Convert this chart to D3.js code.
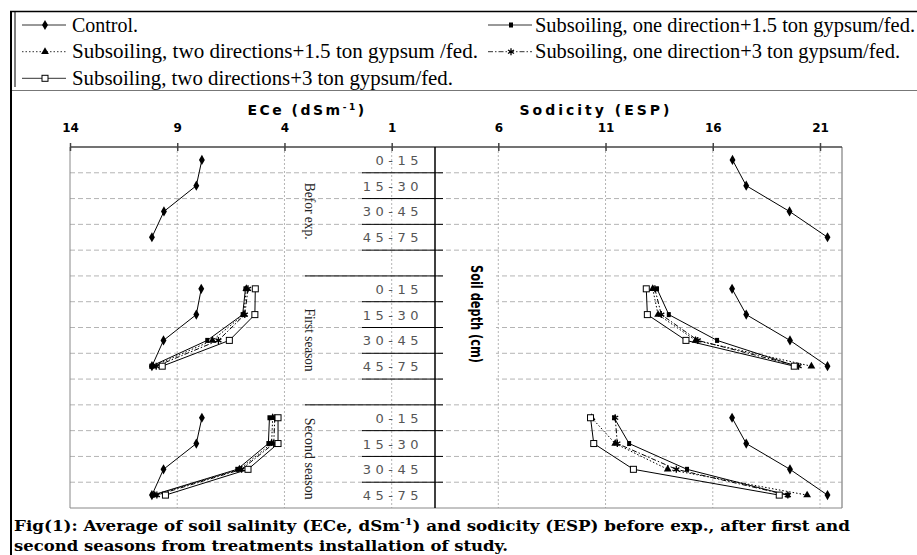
<!DOCTYPE html>
<html>
<head>
<meta charset="utf-8">
<script src="https://cdn.jsdelivr.net/npm/d3@7"></script>
<style>
  body { margin: 0; background: #fff; }
  svg { display: block; }
</style>
</head>
<body>
<svg></svg>
<script>
// categories
const depths = ["0-15", "15-30", "30-45", "45-75"]
const sections = ["Befor exp.", "First season", "Second season"]
const seriesNames = [
    "Control.",
    "Subsoiling, one direction+1.5 ton gypsum/fed.",
    "Subsoiling, two directions+1.5 ton gypsum /fed.",
    "Subsoiling, one direction+3 ton gypsum/fed.",
    "Subsoiling, two directions+3 ton gypsum/fed."
]

// tick labels
const eceTicks = [14, 9, 4, -1]
const eceTickLabels = ["14", "9", "4", "1"]
const espTicks = [6, 11, 16, 21]
const espTickLabels = ["6", "11", "16", "21"]

// ECe (dSm-1), one row per treatment (legend order), one value per depth
const eceBefore = [[7.85, 8.11, 9.62, 10.18]]
const eceFirst = [
    [7.88, 8.11, 9.64, 10.18],
    [5.82, 5.95, 7.6, 10.21],
    [5.78, 5.9, 7.36, 10.12],
    [5.7, 5.85, 7.08, 9.98],
    [5.36, 5.38, 6.57, 9.7]
]
const eceSecond = [
    [7.85, 8.11, 9.64, 10.18],
    [4.7, 4.75, 6.2, 10.15],
    [4.55, 4.6, 6.1, 10.05],
    [4.45, 4.5, 6.0, 9.95],
    [4.3, 4.3, 5.7, 9.55]
]

// Sodicity (ESP)
const espBefore = [[16.92, 17.56, 19.58, 21.35]]
const espFirst = [
    [16.9, 17.56, 19.6, 21.35],
    [13.4, 13.95, 16.2, 19.9],
    [13.2, 13.45, 15.2, 20.6],
    [13.3, 13.6, 15.3, 20.0],
    [12.9, 12.95, 14.75, 19.8]
]
const espSecond = [
    [16.9, 17.56, 19.6, 21.35],
    [11.4, 12.1, 14.8, 19.5],
    [10.35, 11.45, 13.9, 20.4],
    [11.45, 11.55, 14.3, 19.5],
    [10.3, 10.45, 12.3, 19.1]
]

const eceData = [eceBefore, eceFirst, eceSecond]
const espData = [espBefore, espFirst, espSecond]

let width = 917
let height = 555

// plot box
const plotLeft = 70, plotRight = 842, plotTop = 147, plotBottom = 508
const sepX = 435
const serif = "'Liberation Serif', 'Times New Roman', serif"
const sans = "'DejaVu Sans', Verdana, sans-serif"

const svg = d3.select('svg').attr('width', width).attr('height', height)

// styles per treatment
const dashes = [null, null, '1.5,2', '5,2,1.5,2', null]
const markers = ['diamond', 'bar', 'triangle', 'star', 'square']

// scales
const xEce = d3.scaleLinear().domain([14, -1]).range([plotLeft, 391.7])
const xEsp = d3.scaleLinear().domain([6, 21]).range([498.3, 820])
const rows = d3.range(14)
const yRow = d3.scaleBand().domain(rows).range([plotTop, plotBottom])
const rowOf = (s, d) => s * 5 + d
const yMid = (s, d) => yRow(rowOf(s, d)) + yRow.bandwidth() / 2

const drawMarker = (g, type, x, y) => {
    if (type === 'diamond') {
        g.append('path').attr('d', d3.symbol(d3.symbolDiamond, 30)())
         .attr('transform', `translate(${x},${y})`).attr('fill', '#000')
    } else if (type === 'bar') {
        g.append('rect').attr('x', x - 2).attr('y', y - 2.5).attr('width', 4).attr('height', 5).attr('fill', '#000')
    } else if (type === 'triangle') {
        g.append('path').attr('d', d3.symbol(d3.symbolTriangle, 26)())
         .attr('transform', `translate(${x},${y})`).attr('fill', '#000')
    } else if (type === 'star') {
        g.append('path').attr('d', d3.symbol(d3.symbolAsterisk, 34)())
         .attr('transform', `translate(${x},${y})`).attr('fill', 'none').attr('stroke', '#000').attr('stroke-width', 1.3)
    } else {
        g.append('rect').attr('x', x - 3).attr('y', y - 3).attr('width', 6).attr('height', 6)
         .attr('fill', '#fff').attr('stroke', '#000').attr('stroke-width', 1)
    }
}

// outer frame and legend box
svg.append('line').attr('x1', 10).attr('x2', 917).attr('y1', 11.5).attr('y2', 11.5).attr('stroke', '#000').attr('stroke-width', 1.5)
svg.append('line').attr('x1', 11).attr('x2', 11).attr('y1', 11).attr('y2', height).attr('stroke', '#000').attr('stroke-width', 2)
svg.append('line').attr('x1', 15).attr('x2', 15).attr('y1', 11).attr('y2', 87).attr('stroke', '#000').attr('stroke-width', 1)
svg.append('line').attr('x1', 12).attr('x2', 917).attr('y1', 90.5).attr('y2', 90.5).attr('stroke', '#777').attr('stroke-width', 1)

// legend
const legendRowY = [25, 51.7, 78.3]
const legendColX = [22, 488]
const legendTextX = [72, 535]
const legendTextLen = [66, 380, 406, 365, 381]
seriesNames.forEach((name, i) => {
    const col = i % 2, row = Math.floor(i / 2)
    const g = svg.append('g')
    const y = legendRowY[row]
    const x0 = legendColX[col]
    g.append('line').attr('x1', x0).attr('x2', x0 + 44).attr('y1', y).attr('y2', y)
     .attr('stroke', '#333').attr('stroke-width', 1).attr('stroke-dasharray', dashes[i])
    drawMarker(g, markers[i], x0 + 23, y)
    g.append('text').attr('x', legendTextX[col]).attr('y', y + 6.5)
     .attr('font-family', serif).attr('font-size', 20)
     .attr('textLength', legendTextLen[i]).attr('lengthAdjust', 'spacingAndGlyphs').text(name)
})

// grid
const grid = svg.append('g')
rows.slice(1).forEach(r => {
    grid.append('line').attr('x1', plotLeft).attr('x2', plotRight).attr('y1', yRow(r)).attr('y2', yRow(r))
        .attr('stroke', '#b4b4b4').attr('stroke-dasharray', '5,3')
})
eceTicks.slice(1).forEach(t => {
    grid.append('line').attr('x1', xEce(t)).attr('x2', xEce(t)).attr('y1', plotTop).attr('y2', plotBottom)
        .attr('stroke', '#b4b4b4').attr('stroke-dasharray', '2,2')
})
espTicks.forEach(t => {
    grid.append('line').attr('x1', xEsp(t)).attr('x2', xEsp(t)).attr('y1', plotTop).attr('y2', plotBottom)
        .attr('stroke', '#b4b4b4').attr('stroke-dasharray', '2,2')
})

// plot frame
svg.append('line').attr('x1', plotLeft).attr('x2', plotLeft).attr('y1', plotTop).attr('y2', plotBottom).attr('stroke', '#888')
svg.append('line').attr('x1', plotRight).attr('x2', plotRight).attr('y1', plotTop).attr('y2', plotBottom).attr('stroke', '#999').attr('stroke-width', 1.5)
svg.append('line').attr('x1', plotLeft).attr('x2', plotRight).attr('y1', plotBottom).attr('y2', plotBottom).attr('stroke', '#888')
svg.append('line').attr('x1', plotLeft).attr('x2', plotRight).attr('y1', plotTop).attr('y2', plotTop).attr('stroke', '#444').attr('stroke-width', 1.5)

// axes on top
const styleAxis = (g) => {
    g.select('.domain').remove()
    g.selectAll('.tick line').attr('y1', 4).attr('y2', -4).attr('stroke', '#444').attr('stroke-width', 1.5)
    g.selectAll('.tick text').attr('y', -15).attr('dy', null)
     .attr('font-family', sans).attr('font-weight', 'bold').attr('font-size', 12).attr('fill', '#000')
}
svg.append('g').attr('transform', `translate(0,${plotTop})`)
   .call(d3.axisTop(xEce).tickValues(eceTicks).tickFormat((d, i) => eceTickLabels[i]))
   .call(styleAxis)
svg.append('g').attr('transform', `translate(0,${plotTop})`)
   .call(d3.axisTop(xEsp).tickValues(espTicks).tickFormat((d, i) => espTickLabels[i]))
   .call(styleAxis)

// axis titles
const eceTitle = svg.append('text').attr('x', 307).attr('y', 115).attr('text-anchor', 'middle')
    .attr('font-family', sans).attr('font-weight', 'bold').attr('font-size', 14)
    .attr('letter-spacing', 2.5)
eceTitle.append('tspan').text('ECe (dSm')
eceTitle.append('tspan').attr('font-size', 9).attr('dy', -5).text('-1')
eceTitle.append('tspan').attr('dy', 5).text(')')
svg.append('text').attr('x', 596).attr('y', 115).attr('text-anchor', 'middle')
    .attr('font-family', sans).attr('font-weight', 'bold').attr('font-size', 14)
    .attr('letter-spacing', 3).text('Sodicity (ESP)')

// depth label box
svg.append('line').attr('x1', sepX).attr('x2', sepX).attr('y1', plotTop).attr('y2', plotBottom).attr('stroke', '#000').attr('stroke-width', 1.5)
rows.slice(1).forEach(r => {
    svg.append('line').attr('x1', (r === 5 || r === 10) ? 305 : 362).attr('x2', 443)
       .attr('y1', yRow(r)).attr('y2', yRow(r)).attr('stroke', '#000').attr('stroke-width', 1)
})
sections.forEach((sec, s) => {
    depths.forEach((d, i) => {
        svg.append('text').attr('x', 423).attr('y', yMid(s, i) + 5).attr('text-anchor', 'end')
           .attr('font-family', sans).attr('font-size', 13).attr('letter-spacing', 4.5)
           .attr('fill', '#555').text(d)
    })
})
const secStart = [yMid(0, 1) - 3, yMid(1, 1) - 6, yMid(2, 0)]
const secLen = [57, 63, 82]
sections.forEach((sec, s) => {
    svg.append('text').attr('transform', `translate(305,${secStart[s]}) rotate(90)`)
       .attr('font-family', serif).attr('font-size', 15).attr('fill', '#222')
       .attr('textLength', secLen[s]).attr('lengthAdjust', 'spacingAndGlyphs').text(sec)
})

// soil depth label
svg.append('rect').attr('x', 444).attr('y', 256).attr('width', 52).attr('height', 128).attr('fill', '#fff')
svg.append('text').attr('transform', 'translate(471,265) rotate(90)')
   .attr('font-family', sans).attr('font-weight', 'bold').attr('font-size', 16)
   .attr('textLength', 98).attr('lengthAdjust', 'spacingAndGlyphs').text('Soil depth (cm)')

// data lines and markers
const drawPanel = (data, xScale) => {
    data.forEach((section, s) => {
        section.forEach((vals, k) => {
            const pts = vals.map((v, i) => [xScale(v), yMid(s, i)])
            svg.append('path').attr('d', d3.line()(pts)).attr('fill', 'none')
               .attr('stroke', '#000').attr('stroke-width', 1).attr('stroke-dasharray', dashes[k])
            const g = svg.append('g')
            pts.forEach(p => drawMarker(g, markers[k], p[0], p[1]))
        })
    })
}
drawPanel(eceData, xEce)
drawPanel(espData, xEsp)

// caption
const cap = svg.append('g').attr('font-family', "'DejaVu Serif', serif").attr('font-weight', 'bold').attr('font-size', 15)
const l1 = cap.append('text').attr('x', 14).attr('y', 531)
    .attr('textLength', 836).attr('lengthAdjust', 'spacingAndGlyphs')
l1.append('tspan').text('Fig(1): Average of soil salinity (ECe, dSm')
l1.append('tspan').attr('font-size', 10).attr('dy', -6).text('-1')
l1.append('tspan').attr('dy', 6).text(') and sodicity (ESP) before exp., after first and')
cap.append('text').attr('x', 14).attr('y', 551)
   .attr('textLength', 494).attr('lengthAdjust', 'spacingAndGlyphs')
   .text('second seasons from treatments installation of study.')
</script>
</body>
</html>
